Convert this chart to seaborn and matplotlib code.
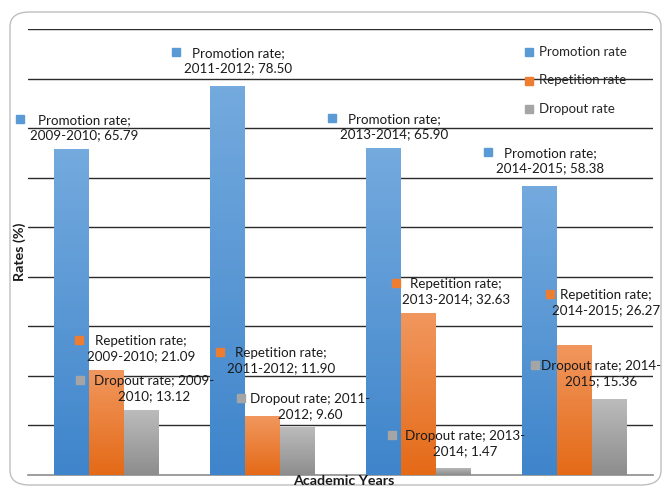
import numpy as np
import pandas as pd
import seaborn as sns
import matplotlib.pyplot as plt
from matplotlib.patches import FancyBboxPatch
from matplotlib.colors import LinearSegmentedColormap
from matplotlib.lines import Line2D

years = ['2009-2010', '2011-2012', '2013-2014', '2014-2015']
series = ['Promotion rate', 'Repetition rate', 'Dropout rate']
promotion = [65.79, 78.50, 65.90, 58.38]
repetition = [21.09, 11.90, 32.63, 26.27]
dropout = [13.12, 9.60, 1.47, 15.36]

# colours: flat (legend / label squares) and gradient top -> bottom
flat = ['#5b9bd5', '#ed7d31', '#a5a5a5']
grad = [('#74aade', '#3f85cb'), ('#f1975e', '#e46a17'), ('#bcbcbc', '#8d8d8d')]

rows = []
for name, vals in zip(series, [promotion, repetition, dropout]):
    for y, v in zip(years, vals):
        rows.append({'Year': y, 'Type': name, 'Rate': v})
df = pd.DataFrame(rows)

sns.set_style('white')
plt.rcParams['font.family'] = ['Lato', 'DejaVu Sans']

W, H = 664, 488
fig = plt.figure(figsize=(W / 100, H / 100), dpi=100)
ax = fig.add_axes([28 / W, 1 - 475 / H, 625 / W, 446 / H])

sns.barplot(data=df, x='Year', y='Rate', hue='Type', hue_order=series,
            palette=flat, width=0.672, ax=ax, legend=False, zorder=3)

# gradient fill on each bar
for cont, (top, bot) in zip(ax.containers, grad):
    cmap = LinearSegmentedColormap.from_list('g', [bot, top])
    for bar in cont:
        bar.set_facecolor('none')
        bar.set_edgecolor('none')
        x0, y0 = bar.get_x(), bar.get_y()
        w, h = bar.get_width(), bar.get_height()
        im = ax.imshow(np.linspace(0, 1, 100).reshape(-1, 1), cmap=cmap,
                       extent=[x0, x0 + w, y0, y0 + h], origin='lower',
                       aspect='auto', zorder=3)
        im.set_clip_path(bar)

ax.set_xlim(-0.5, 3.5)
ax.set_ylim(0, 90)
ax.set_yticks(np.arange(10, 91, 10))
ax.grid(axis='y', color='#2b2b2b', linewidth=1.0, zorder=0)
ax.set_xticks([])
ax.tick_params(left=False, labelleft=False)
for s in ['top', 'right', 'left']:
    ax.spines[s].set_visible(False)
ax.spines['bottom'].set_color('#8c8c8c')
ax.spines['bottom'].set_linewidth(1.2)
ax.set_xlabel('')
ax.set_ylabel('')

# axis titles
fig.text(344 / W, 1 - 481 / H, 'Academic Years', ha='center', va='center',
         fontsize=10.3, fontweight='bold', color='#1a1a1a')
fig.text(20 / W, 1 - 252 / H, 'Rates (%)', ha='center', va='center',
         rotation=90, fontsize=10.3, fontweight='bold', color='#1a1a1a')

# data labels (layout in figure pixels: marker x, marker y, text centre x)
label_pos = [
    [(20, 119, 84), (176, 52, 238), (332, 118, 394), (488, 152, 550)],
    [(79, 340, 141), (220, 352, 281), (396, 283, 456), (550, 294, 606)],
    [(80, 380, 154), (241, 398, 310), (392, 435, 465), (535, 365, 601)],
]
for si, (name, vals) in enumerate(zip(series, [promotion, repetition, dropout])):
    for yi, (y, v) in enumerate(zip(years, vals)):
        mx, my, tx = label_pos[si][yi]
        if si < 2:
            txt = f'{name};\n{y}; {v:.2f}'
        else:
            a, b = y.split('-')
            txt = f'{name}; {a}-\n{b}; {v:.2f}'
        fig.text(tx / W, 1 - (my + 9) / H, txt, ha='center', va='center',
                 fontsize=9.6, linespacing=1.32, color='#1a1a1a', zorder=5)
        fig.add_artist(Line2D([mx / W], [1 - my / H], marker='s', markersize=6,
                              color=flat[si], linestyle='none', zorder=5))

# legend
for i, name in enumerate(series):
    ly = 52 + i * 28.5
    fig.add_artist(Line2D([529 / W], [1 - ly / H], marker='s', markersize=6,
                          color=flat[i], linestyle='none', zorder=5))
    fig.text(539 / W, 1 - ly / H, name, ha='left', va='center',
             fontsize=9.5, color='#262626', zorder=5)

# rounded chart frame
frame = FancyBboxPatch((10 / W, 3 / H), 651 / W, 473 / H,
                       boxstyle='round,pad=0,rounding_size=0.03',
                       transform=fig.transFigure, facecolor='none',
                       edgecolor='#bfbfbf', linewidth=1.0, zorder=0)
fig.add_artist(frame)

fig.savefig('out.png', dpi=100)
